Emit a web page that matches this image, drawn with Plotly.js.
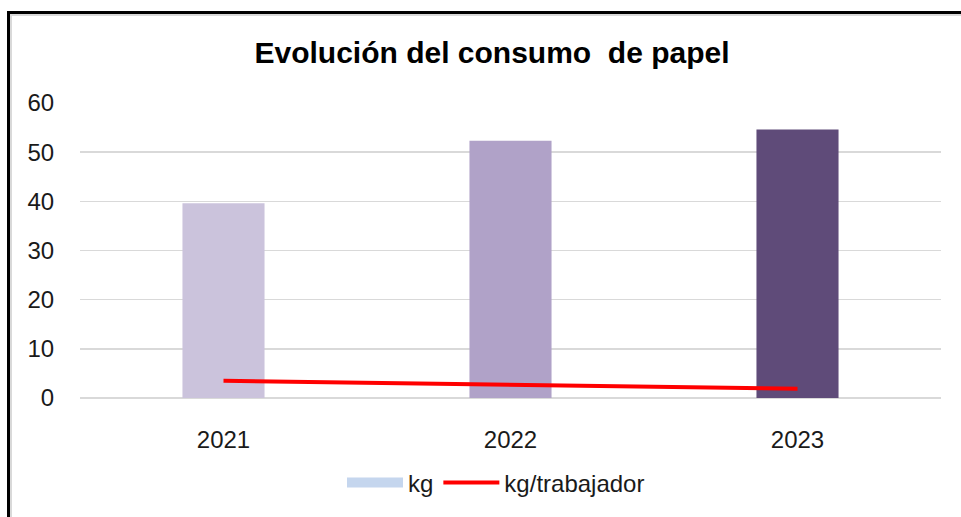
<!DOCTYPE html>
<html>
<head>
<meta charset="utf-8">
<script src="https://cdn.plot.ly/plotly-3.0.1.min.js"></script>
<style>
  html, body { margin: 0; padding: 0; background: #fff; }
  #wrap { position: relative; width: 961px; height: 517px; overflow: hidden; }
  #chart { width: 961px; height: 517px; }
  #frame { position: absolute; left: 7px; top: 11px; width: 1200px; height: 800px;
           border-top: 3px solid #000; border-left: 3px solid #000; pointer-events: none; }
  #frame2 { position: absolute; left: 10px; top: 14px; width: 1200px; height: 800px;
           border-top: 2px solid #d9d9d9; border-left: 2px solid #d9d9d9; pointer-events: none; }
</style>
</head>
<body>
<div id="wrap">
  <div id="chart"></div>
  <div id="frame"></div>
  <div id="frame2"></div>
</div>
<script>
const years = ['2021', '2022', '2023'];
const kg = [39.6, 52.3, 54.6];
const kgPerWorker = [3.5, 2.7, 1.9];
const barColors = ['#CBC3DC', '#B0A2C8', '#5F4B79'];
const legendKgColor = '#C5D6EE';

const font = 'Arial, "Liberation Sans", sans-serif';

const traces = [
  {
    type: 'bar', x: years, y: kg, name: 'kg', showlegend: false,
    marker: { color: barColors }, hoverinfo: 'x+y'
  },
  {
    type: 'scatter', mode: 'lines', x: [null], y: [null], name: 'kg',
    line: { color: legendKgColor, width: 12 }, hoverinfo: 'skip'
  },
  {
    type: 'scatter', mode: 'lines', x: years, y: kgPerWorker, name: 'kg/trabajador',
    line: { color: '#FF0000', width: 4 }
  }
];

const layout = {
  width: 961, height: 517,
  margin: { l: 80, r: 20, t: 103, b: 119 },
  paper_bgcolor: '#fff', plot_bgcolor: '#fff',
  font: { family: font, color: '#1a1a1a', size: 24 },
  title: {
    text: 'Evolución del consumo  de papel',
    font: { family: font, size: 30, color: '#000', weight: 'bold' },
    x: 492 / 961, xref: 'container', xanchor: 'center',
    y: 1 - 52 / 517, yref: 'container', yanchor: 'middle'
  },
  bargap: 0.714,
  xaxis: {
    type: 'category',
    showgrid: false, zeroline: false, showline: false,
    ticks: 'outside', ticklen: 20, tickcolor: 'rgba(0,0,0,0)',
    tickfont: { family: font, size: 24, color: '#1a1a1a' }
  },
  yaxis: {
    range: [0, 60], dtick: 10, tick0: 0,
    showgrid: true, gridcolor: '#D9D9D9', gridwidth: 1.5,
    zeroline: true, zerolinecolor: '#D9D9D9', zerolinewidth: 2,
    showline: false,
    ticks: 'outside', ticklen: 20, tickcolor: 'rgba(0,0,0,0)',
    tickfont: { family: font, size: 24, color: '#1a1a1a' }
  },
  showlegend: true,
  legend: {
    orientation: 'h', x: 496 / 961, xref: 'container', xanchor: 'center',
    y: 1 - 483 / 517, yref: 'container', yanchor: 'middle',
    font: { family: font, size: 24, color: '#1a1a1a' },
    traceorder: 'normal', itemwidth: 56, bgcolor: 'rgba(0,0,0,0)'
  }
};

Plotly.newPlot('chart', traces, layout, { displayModeBar: false, staticPlot: true });
</script>
</body>
</html>
